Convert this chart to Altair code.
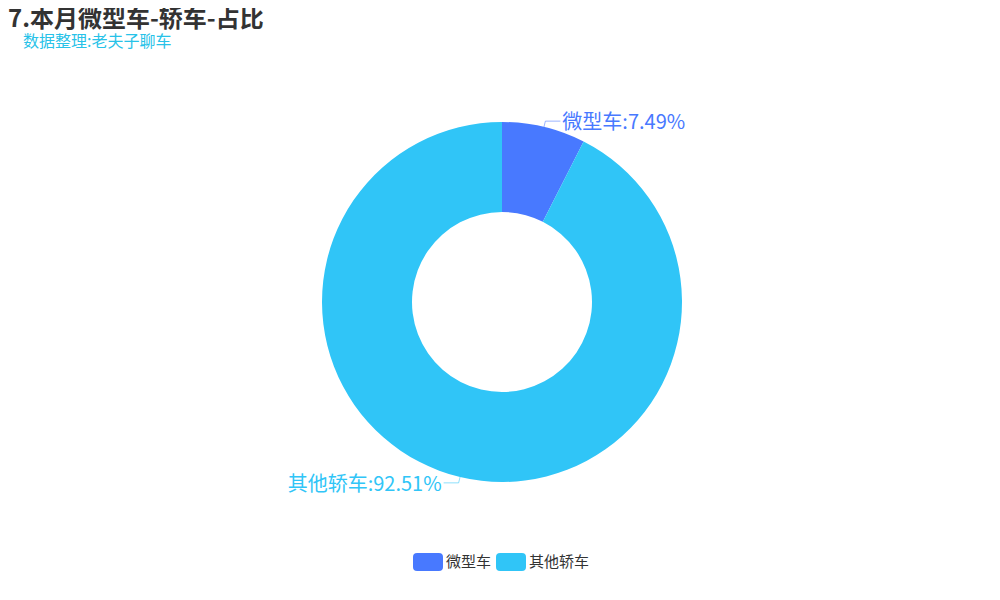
import altair as alt
import pandas as pd

categories = ["微型车", "其他轿车"]
shares = [7.49, 92.51]
colors = ["#4879ff", "#30c5f7"]
title_text = "7.本月微型车-轿车-占比"
subtitle_text = "数据整理:老夫子聊车"

W, H = 984, 584
CX, CY = 494, 294
R_IN, R_OUT = 90, 180
R_ELBOW = 186
LEN2 = 15
FONT = "Noto Sans CJK SC"

df = pd.DataFrame({"cat": categories, "share": shares, "idx": list(range(len(categories)))})
df["label"] = [f"{c}:{v:.2f}%" for c, v in zip(categories, shares)]

color_scale = alt.Scale(domain=categories, range=colors)
xs = alt.Scale(domain=[0, W], range=[0, W])
ys = alt.Scale(domain=[0, H], range=[0, H])

rect_path = ("M-0.73,-0.6 L0.73,-0.6 Q1,-0.6 1,-0.33 L1,0.33 Q1,0.6 0.73,0.6 "
             "L-0.73,0.6 Q-1,0.6 -1,0.33 L-1,-0.33 Q-1,-0.6 -0.73,-0.6 Z")

arc = alt.Chart(df).mark_arc(innerRadius=R_IN, outerRadius=R_OUT).encode(
    theta=alt.Theta("share:Q", stack=True),
    order=alt.Order("idx:Q"),
    color=alt.Color(
        "cat:N", scale=color_scale, sort=categories,
        legend=alt.Legend(
            title=None, orient="none", legendX=405, legendY=539,
            direction="horizontal", symbolType=rect_path, symbolSize=900,
            symbolStrokeWidth=0, symbolOpacity=1, labelFontSize=15,
            labelColor="#333333", labelOffset=3, columnPadding=4, padding=0,
            labelFont=FONT,
        ),
    ),
    x=alt.value(CX),
    y=alt.value(CY),
)

geo = (
    alt.Chart(df)
    .transform_joinaggregate(total="sum(share)")
    .transform_window(cum="sum(share)", sort=[alt.SortField("idx")], frame=[None, 0])
    .transform_calculate(mid="(datum.cum - datum.share/2)/datum.total*2*PI")
    .transform_calculate(
        x0=f"{CX}+{R_OUT}*sin(datum.mid)",
        y0=f"{CY}-{R_OUT}*cos(datum.mid)",
        x1=f"{CX}+{R_ELBOW}*sin(datum.mid)",
        y1=f"{CY}-{R_ELBOW}*cos(datum.mid)",
        side="sin(datum.mid) >= 0 ? 1 : -1",
    )
    .transform_calculate(x2=f"datum.x1 + datum.side*{LEN2}")
)

total = sum(shares)
layers = [arc]
cum = 0.0
for i, cat in enumerate(categories):
    mid_deg = (cum + shares[i] / 2) / total * 360
    cum += shares[i]
    right = mid_deg < 180
    sub = geo.transform_filter(alt.datum.cat == cat)
    seg1 = sub.mark_rule(strokeWidth=1, opacity=0.55).encode(
        x=alt.X("x0:Q", scale=xs, axis=None),
        y=alt.Y("y0:Q", scale=ys, axis=None),
        x2="x1:Q", y2="y1:Q",
        color=alt.value(colors[i]),
    )
    seg2 = sub.mark_rule(strokeWidth=1, opacity=0.55).encode(
        x=alt.X("x1:Q", scale=xs, axis=None),
        y=alt.Y("y1:Q", scale=ys, axis=None),
        x2="x2:Q", y2="y1:Q",
        color=alt.value(colors[i]),
    )
    txt = sub.mark_text(
        align="left" if right else "right", baseline="middle",
        dx=2 if right else -2, dy=2, fontSize=20, font=FONT,
    ).encode(
        x=alt.X("x2:Q", scale=xs, axis=None),
        y=alt.Y("y1:Q", scale=ys, axis=None),
        text="label:N",
        color=alt.value(colors[i]),
    )
    layers += [seg1, seg2, txt]

title = alt.Chart(pd.DataFrame({"t": [title_text]})).mark_text(
    align="left", baseline="top", fontSize=24, fontWeight="bold",
    color="#333333", font=FONT,
).encode(text="t:N", x=alt.value(0), y=alt.value(0))

subtitle = alt.Chart(pd.DataFrame({"t": [subtitle_text]})).mark_text(
    align="left", baseline="middle", fontSize=16, color="#27c2e8", font=FONT,
).encode(text="t:N", x=alt.value(15), y=alt.value(34))

layers += [title, subtitle]

chart = (
    alt.layer(*layers)
    .properties(
        width=W, height=H,
        autosize=alt.AutoSizeParams(type="none"),
        padding=0,
    )
    .configure(font=FONT)
    .configure_view(strokeWidth=0, stroke="transparent")
)

chart.save("out.html", embed_options={"renderer": "svg", "actions": False})
